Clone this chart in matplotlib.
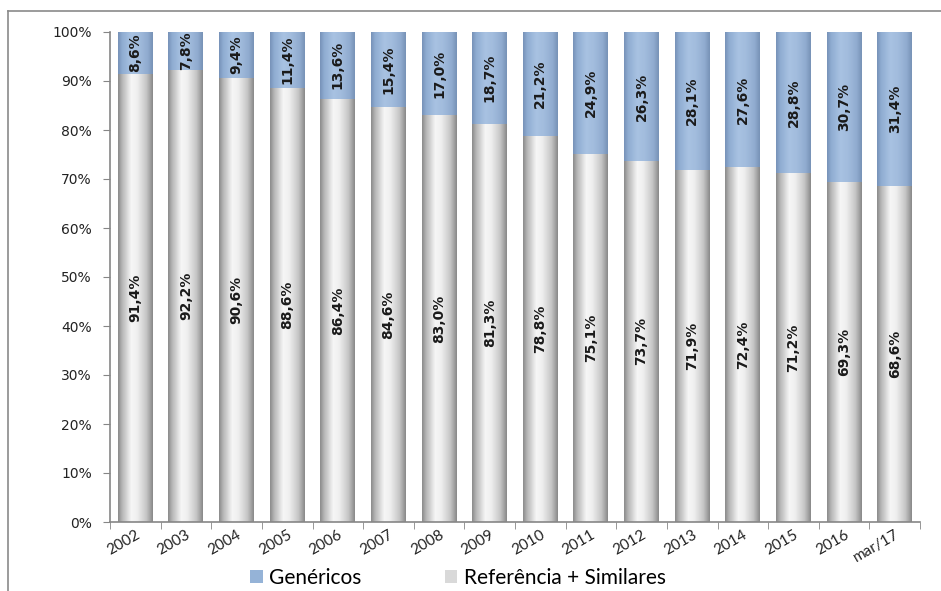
import numpy as np
import matplotlib
matplotlib.use("Agg")
import matplotlib.pyplot as plt
from matplotlib.patches import Rectangle
from matplotlib.lines import Line2D
from matplotlib.colors import LinearSegmentedColormap

categories = ["2002", "2003", "2004", "2005", "2006", "2007", "2008", "2009",
              "2010", "2011", "2012", "2013", "2014", "2015", "2016", "mar/17"]
referencia = [91.4, 92.2, 90.6, 88.6, 86.4, 84.6, 83.0, 81.3,
              78.8, 75.1, 73.7, 71.9, 72.4, 71.2, 69.3, 68.6]
genericos = [8.6, 7.8, 9.4, 11.4, 13.6, 15.4, 17.0, 18.7,
             21.2, 24.9, 26.3, 28.1, 27.6, 28.8, 30.7, 31.4]
yticks = [0, 10, 20, 30, 40, 50, 60, 70, 80, 90, 100]
series_names = ["Genéricos", "Referência + Similares"]

gray_cmap = LinearSegmentedColormap.from_list(
    "cyl_gray", [(0.0, "#8c8c8c"), (0.12, "#b8b8b8"), (0.38, "#f6f6f6"),
                 (0.55, "#efefef"), (0.82, "#c6c6c6"), (1.0, "#8a8a8a")])
blue_cmap = LinearSegmentedColormap.from_list(
    "cyl_blue", [(0.0, "#7893b9"), (0.12, "#90add2"), (0.38, "#a8c2e2"),
                 (0.6, "#a2bcdd"), (0.85, "#91acd0"), (1.0, "#7893b7")])
grad = np.linspace(0, 1, 64).reshape(1, -1)

fig = plt.figure(figsize=(9.41, 5.91), dpi=100)
ax = fig.add_axes([110 / 941, 1 - 522 / 591, 810 / 941, 490 / 591])

# outer frame (top and left edges of the chart area)
fig.add_artist(Line2D([8 / 941, 8 / 941], [0, 1 - 11 / 591],
                      transform=fig.transFigure, color="#8a8a8a", lw=1.2))
fig.add_artist(Line2D([8 / 941, 1], [1 - 11 / 591, 1 - 11 / 591],
                      transform=fig.transFigure, color="#8a8a8a", lw=1.2))

x = np.arange(len(categories))
width = 0.69
for xi, ref, gen in zip(x, referencia, genericos):
    x0, x1 = xi - width / 2, xi + width / 2
    ax.imshow(grad, cmap=gray_cmap, aspect="auto", extent=(x0, x1, 0, ref),
              interpolation="bilinear", zorder=2)
    ax.imshow(grad, cmap=blue_cmap, aspect="auto", extent=(x0, x1, ref, ref + gen),
              interpolation="bilinear", zorder=2)
    ax.text(xi, ref / 2, f"{ref:.1f}%".replace(".", ","), rotation=90,
            ha="center", va="center", fontsize=10, fontweight="bold",
            color="#1a1a1a", zorder=3)
    ax.text(xi, ref + gen / 2, f"{gen:.1f}%".replace(".", ","), rotation=90,
            ha="center", va="center", fontsize=10, fontweight="bold",
            color="#1a1a1a", zorder=3)

ax.set_xlim(-0.5, len(categories) - 0.5)
ax.set_ylim(0, 100)

ax.set_yticks(yticks)
ax.set_yticklabels([f"{v}%" for v in yticks], fontsize=10, color="#222222")
ax.set_xticks(x)
ax.set_xticklabels(categories, rotation=30, fontsize=11, color="#222222",
                   fontfamily="Lato", ha="right", rotation_mode="anchor")
ax.set_xticks(np.arange(-0.5, len(categories)), minor=True)
ax.tick_params(axis="x", which="major", length=0, pad=4)
ax.tick_params(axis="x", which="minor", length=5, color="#868686", direction="out")
ax.tick_params(axis="y", length=5, color="#868686", direction="out", pad=8)

for side in ["top", "right"]:
    ax.spines[side].set_visible(False)
for side in ["left", "bottom"]:
    ax.spines[side].set_color("#868686")
    ax.spines[side].set_linewidth(1.2)

handles = [Rectangle((0, 0), 1, 1, facecolor="#95b3d7", edgecolor="none"),
           Rectangle((0, 0), 1, 1, facecolor="#d9d9d9", edgecolor="none")]
fig.legend(handles, series_names, loc="center", ncol=2,
           bbox_to_anchor=(458 / 941, 1 - 578 / 591), frameon=False,
           prop={"family": "Lato", "size": 15}, handlelength=0.6,
           handleheight=0.6, handletextpad=0.3, columnspacing=4.0)

fig.savefig("out.png", dpi=100)
